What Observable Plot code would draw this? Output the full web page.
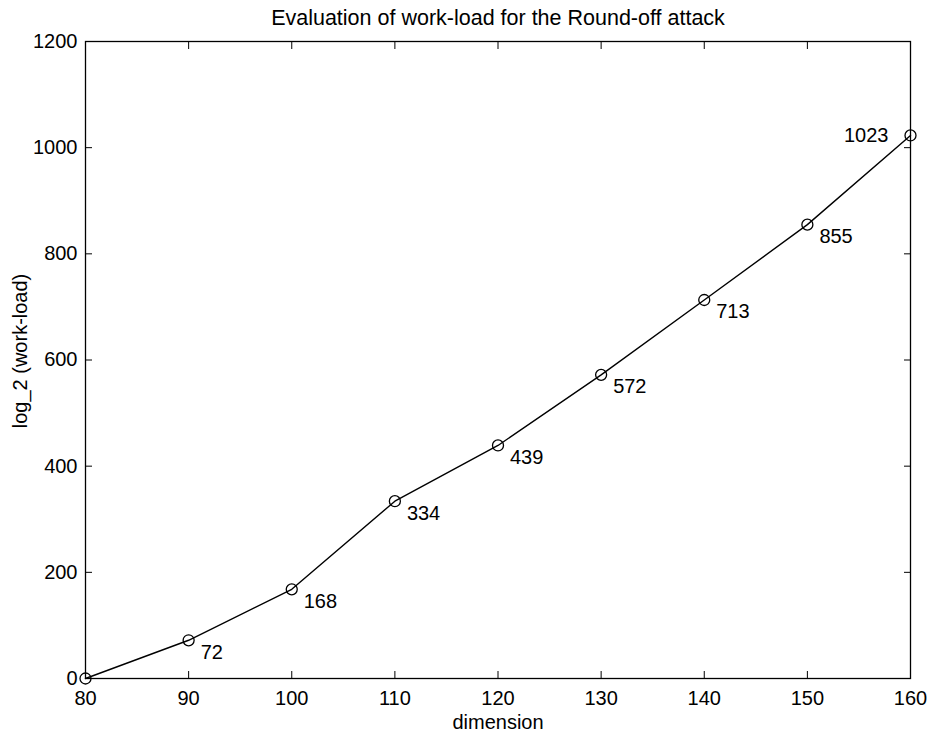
<!DOCTYPE html>
<html>
<head>
<meta charset="utf-8">
<script src="https://cdn.jsdelivr.net/npm/d3@7"></script>
<script src="https://cdn.jsdelivr.net/npm/@observablehq/plot@0.6"></script>
<style>
  html, body { margin: 0; padding: 0; background: #fff; }
  svg { font-family: "Liberation Sans", Arial, Helvetica, sans-serif; }
</style>
</head>
<body>
<div id="chart"></div>
<script>
const dimensions = [80, 90, 100, 110, 120, 130, 140, 150, 160];
const workload = [0, 72, 168, 334, 439, 572, 713, 855, 1023];
const xTicks = [80, 90, 100, 110, 120, 130, 140, 150, 160];
const yTicks = [0, 200, 400, 600, 800, 1000, 1200];
const titleText = "Evaluation of work-load for the Round-off attack";
const xLabel = "dimension";
const yLabel = "log_2 (work-load)";

const data = dimensions.map((d, i) => ({x: d, y: workload[i]}));
const labeled = data.filter(d => d.x !== 80 && d.x !== 160);
const last = data.filter(d => d.x === 160);
const fmt = d => String(d);

const chart = Plot.plot({
  width: 938,
  height: 733,
  marginLeft: 85,
  marginRight: 28,
  marginTop: 41,
  marginBottom: 55,
  style: {fontFamily: '"Liberation Sans", Arial, Helvetica, sans-serif', background: "#fff", color: "#000"},
  x: {domain: [80, 160], ticks: xTicks},
  y: {domain: [0, 1200], ticks: yTicks},
  marks: [
    Plot.frame({stroke: "#000", strokeWidth: 1.3}),
    Plot.axisX({anchor: "bottom", ticks: xTicks, tickSize: -7, tickPadding: 19, fontSize: 20, tickFormat: fmt, label: null, stroke: "#000"}),
    Plot.axisX({anchor: "top", ticks: xTicks, tickSize: -7, tickFormat: () => "", label: null, stroke: "#000"}),
    Plot.axisY({anchor: "left", ticks: yTicks, tickSize: -7, tickPadding: 15, fontSize: 20, tickFormat: fmt, label: null, stroke: "#000"}),
    Plot.axisY({anchor: "right", ticks: yTicks, tickSize: -7, tickFormat: () => "", label: null, stroke: "#000"}),
    Plot.line(data, {x: "x", y: "y", stroke: "#000", strokeWidth: 1.4}),
    Plot.dot(data, {x: "x", y: "y", r: 5.5, stroke: "#000", fill: "none", strokeWidth: 1.3}),
    Plot.text(labeled, {x: "x", y: "y", text: d => String(d.y), textAnchor: "start", dx: 12, dy: 12, fontSize: 20, fill: "#000"}),
    Plot.text(last, {x: "x", y: "y", text: d => String(d.y), textAnchor: "end", dx: -22, dy: 0, fontSize: 20, fill: "#000"}),
    Plot.text([titleText], {frameAnchor: "top", dy: -32, fontSize: 21.5, fill: "#000"}),
    Plot.text([xLabel], {frameAnchor: "bottom", dy: 50, fontSize: 20, fill: "#000"}),
    Plot.text([yLabel], {frameAnchor: "left", textAnchor: "middle", dx: -65, dy: -9, rotate: -90, fontSize: 20, fill: "#000"})
  ]
});
document.getElementById("chart").appendChild(chart);
</script>
</body>
</html>
